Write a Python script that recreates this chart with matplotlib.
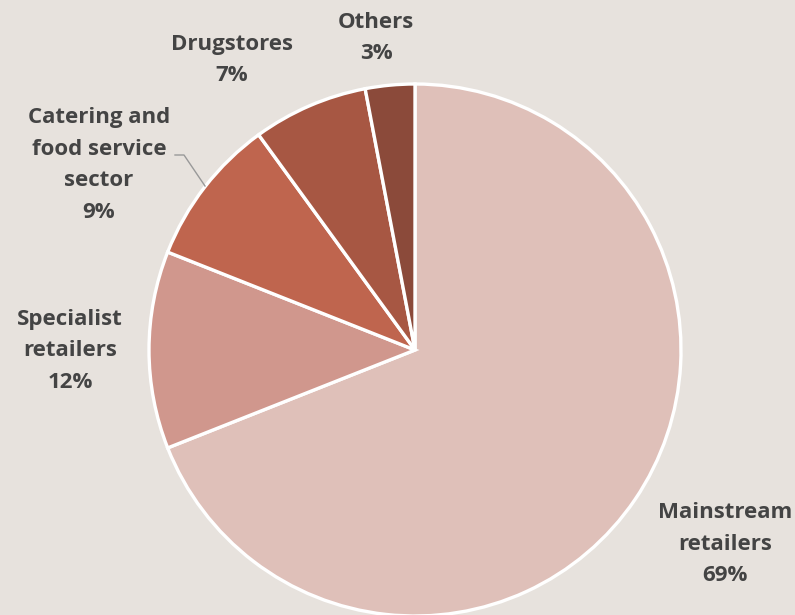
import matplotlib.pyplot as plt

# Shares by sales channel, clockwise from 12 o'clock
channels = ['Mainstream\nretailers', 'Specialist\nretailers', 'Catering and\nfood service\nsector',
            'Drugstores', 'Others']
shares = [69, 12, 9, 7, 3]
colors = ['#dfc0b9', '#d0978d', '#bf654e', '#a75743', '#8b4a3a']

# label anchor points (pixels from top-left)
label_pos = [(725, 544), (70, 351), (99, 165), (232, 60), (376, 38)]

bg = '#e7e2dd'
W, H = 795, 615

fig = plt.figure(figsize=(W / 100, H / 100), dpi=100, facecolor=bg)
ax = fig.add_axes([0, 0, 1, 1])
ax.set_facecolor(bg)
ax.axis('off')

ax.pie(shares, colors=colors, startangle=90, counterclock=False,
       center=(415, H - 350), radius=266,
       wedgeprops=dict(edgecolor='white', linewidth=2.4))
ax.set_xlim(0, W)
ax.set_ylim(0, H)
ax.set_aspect('equal')

for name, val, (x, y) in zip(channels, shares, label_pos):
    ax.text(x, H - y, f'{name}\n{val}%', ha='center', va='center',
            fontsize=16, fontweight='bold', family='Open Sans',
            color='#444444', linespacing=1.68)

# leader line for the catering label
ax.plot([175, 184, 205], [H - 155, H - 155, H - 186], color='#999999', lw=1)

fig.savefig('out.png', dpi=100, facecolor=bg)
